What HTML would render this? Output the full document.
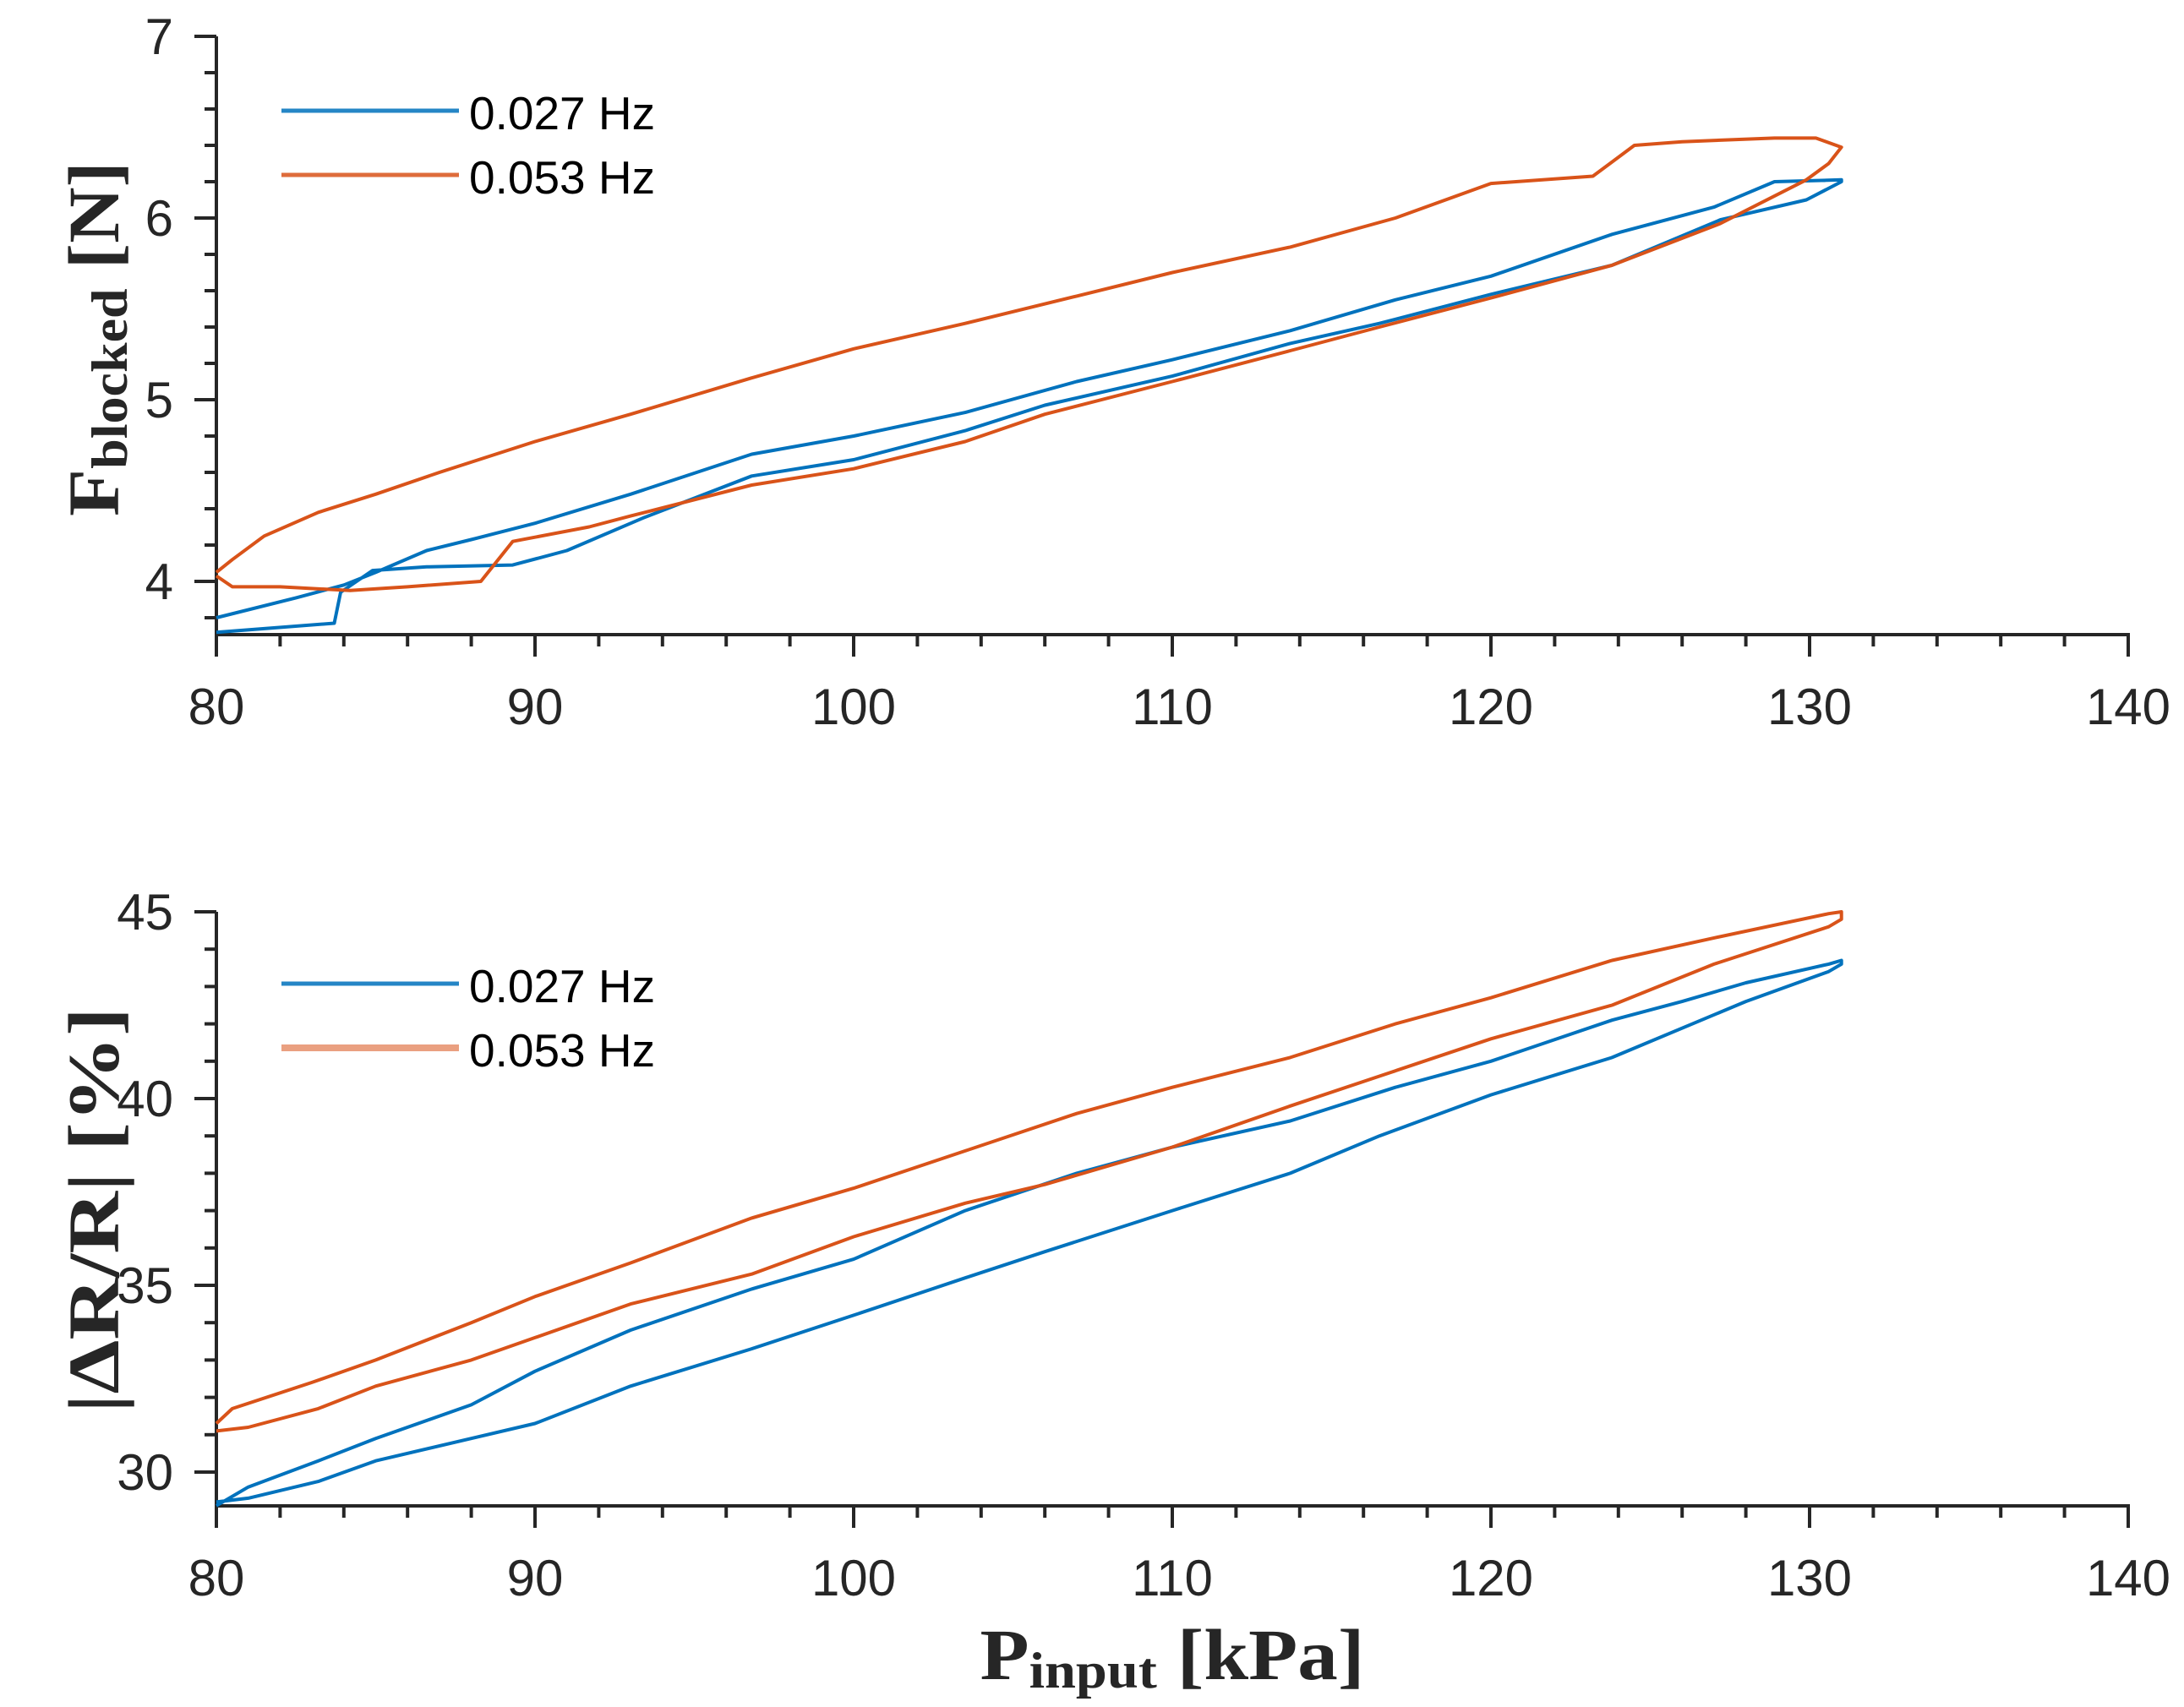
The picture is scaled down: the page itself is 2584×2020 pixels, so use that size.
<!DOCTYPE html>
<html><head><meta charset="utf-8"><style>
html,body{margin:0;padding:0;background:#fff;}
svg{display:block;}
</style></head><body>
<svg id="chart" width="2584" height="2020" viewBox="0 0 2584 2020" xmlns="http://www.w3.org/2000/svg">
<g id="top"></g>
<g id="bot"></g>
<text transform="translate(140,401) rotate(-90)" text-anchor="middle" font-family="Liberation Serif, serif" font-weight="bold" fill="#262626" font-size="86" textLength="420" lengthAdjust="spacingAndGlyphs">F<tspan font-size="60" dy="10">blocked</tspan><tspan dy="-10"> [N]</tspan></text>
<text transform="translate(140,1432) rotate(-90)" text-anchor="middle" font-family="Liberation Serif, serif" font-weight="bold" fill="#262626" font-size="86" textLength="480" lengthAdjust="spacingAndGlyphs">|ΔR/R| [%]</text>
<text x="1387" y="1987" text-anchor="middle" font-family="Liberation Serif, serif" font-weight="bold" fill="#262626" font-size="86" textLength="455" lengthAdjust="spacingAndGlyphs">P<tspan font-size="60" dy="10">input</tspan><tspan dy="-10"> [kPa]</tspan></text>
</svg>
<script>
// ---- data ----
const xTicks = [80, 90, 100, 110, 120, 130, 140];
const topYTicks = [4, 5, 6, 7];
const botYTicks = [30, 35, 40, 45];
const seriesNames = ["0.027 Hz", "0.053 Hz"];
// top panel: F_blocked [N]
const topBlueX = [80, 82.5, 84, 85, 86.6, 88, 90, 93, 96.8, 100, 103.5, 107, 110, 113.7, 117, 120, 123.8, 127, 128.9, 131, 131, 129.9, 127.2, 123.8, 120, 116.5, 113.7, 110, 106, 103.5, 100, 96.8, 93.4, 91, 89.3, 86.6, 84.9, 83.9, 83.7, 81.5, 80];
const topBlueY = [3.80, 3.91, 3.98, 4.05, 4.17, 4.23, 4.32, 4.48, 4.70, 4.80, 4.93, 5.10, 5.22, 5.38, 5.55, 5.68, 5.91, 6.06, 6.20, 6.21, 6.20, 6.10, 5.99, 5.74, 5.58, 5.42, 5.31, 5.13, 4.97, 4.83, 4.67, 4.58, 4.35, 4.17, 4.09, 4.08, 4.06, 3.94, 3.77, 3.74, 3.72];
const topOrangeX = [80, 80.5, 81.5, 83.2, 85, 87, 90, 93, 96.8, 100, 103.5, 107, 110, 113.7, 117, 120, 123.2, 124.5, 126, 128.9, 130.2, 131, 130.6, 129.9, 127.2, 123.8, 120, 116.5, 113.7, 110, 106, 103.5, 100, 96.8, 93, 91.7, 89.3, 88.3, 86, 84.2, 82, 80.5, 80];
const topOrangeY = [4.05, 4.12, 4.25, 4.38, 4.48, 4.60, 4.77, 4.92, 5.12, 5.28, 5.42, 5.57, 5.70, 5.84, 6.00, 6.19, 6.23, 6.40, 6.42, 6.44, 6.44, 6.39, 6.30, 6.21, 5.97, 5.74, 5.56, 5.40, 5.27, 5.10, 4.92, 4.77, 4.62, 4.53, 4.36, 4.30, 4.22, 4.00, 3.97, 3.95, 3.97, 3.97, 4.03];
// bottom panel: |dR/R| [%]
const botBlueX = [80, 81, 83.2, 85, 88, 90, 93, 96.8, 100, 103.5, 107, 110, 113.7, 117, 120, 123.8, 126, 128, 130.6, 131, 131, 130.6, 128, 123.8, 120, 116.5, 113.7, 110, 106, 103.5, 100, 96.8, 93, 90, 88, 85, 83.2, 81, 80];
const botBlueY = [29.1, 29.6, 30.3, 30.9, 31.8, 32.7, 33.8, 34.9, 35.7, 37.0, 38.0, 38.7, 39.4, 40.3, 41.0, 42.1, 42.6, 43.1, 43.6, 43.7, 43.6, 43.4, 42.6, 41.1, 40.1, 39.0, 38.0, 37.0, 35.9, 35.2, 34.2, 33.3, 32.3, 31.3, 30.9, 30.3, 29.75, 29.3, 29.2];
const botOrangeX = [80, 80.5, 83, 85, 88, 90, 93, 96.8, 100, 103.5, 107, 110, 113.7, 117, 120, 123.8, 127, 130.6, 131, 131, 130.6, 127, 123.8, 120, 116.5, 113.7, 110, 106, 103.5, 100, 96.8, 93, 90, 88, 85, 83.2, 81, 80];
const botOrangeY = [31.3, 31.7, 32.4, 33.0, 34.0, 34.7, 35.6, 36.8, 37.6, 38.6, 39.6, 40.3, 41.1, 42.0, 42.7, 43.7, 44.3, 44.95, 45.0, 44.8, 44.6, 43.6, 42.5, 41.6, 40.6, 39.8, 38.7, 37.7, 37.2, 36.3, 35.3, 34.5, 33.6, 33.0, 32.3, 31.7, 31.2, 31.1];

// ---- axes ----
const X0 = 256, XPX = 37.7; // px per kPa
function sx(v){ return X0 + (v - 80) * XPX; }
function syTop(v){ return 43 + (7 - v) * 215; }
function syBot(v){ return 1079 + (45 - v) * 44.2; }
const NS = "http://www.w3.org/2000/svg";
const AX = "#262626", BLUE = "#0072BD", ORANGE = "#D95319";
function mk(tag, attrs, parent){ const e = document.createElementNS(NS, tag); for (const k in attrs) e.setAttribute(k, attrs[k]); parent.appendChild(e); return e; }

function panel(g, sy, yMin, yMax, yTicks, yMinorStep, axisY, xs, ys, legendY){
  const yl = mk("line", {x1:X0, y1:sy(yMax), x2:X0, y2:axisY, stroke:AX, "stroke-width":4}, g);
  
  
  const xl = mk("line", {x1:X0-2, y1:axisY, x2:sx(140)+2, y2:axisY, stroke:AX, "stroke-width":4}, g);
  
  
  for (let v = 80; v <= 140; v += 2) {
    const major = (v % 10 === 0);
    const t = mk("line", {x1:sx(v), y1:axisY, x2:sx(v), y2:axisY + (major ? 26 : 14), stroke:AX, "stroke-width":4}, g);
    
    
  }
  xTicks.forEach(v => {
    const t = mk("text", {x:sx(v), y:axisY + 106, "text-anchor":"middle", "font-family":"Liberation Sans, sans-serif", "font-size":60, fill:AX}, g);
    t.textContent = v;
    
    
  });
  for (let v = yMax; v >= yMin - 1e-9; v -= yMinorStep) {
    const major = yTicks.some(t => Math.abs(t - v) < 1e-6);
    const t = mk("line", {x1:X0, y1:sy(v), x2:X0 - (major ? 26 : 14), y2:sy(v), stroke:AX, "stroke-width":4}, g);
    
    
  }
  yTicks.forEach(v => {
    const t = mk("text", {x:205, y:sy(v) + 21, "text-anchor":"end", "font-family":"Liberation Sans, sans-serif", "font-size":60, fill:AX}, g);
    t.textContent = v;
    
    
  });
  const cols = [BLUE, ORANGE];
  for (let s = 0; s < 2; s++) {
    const pts = xs[s].map((x, i) => sx(x).toFixed(1) + "," + sy(ys[s][i]).toFixed(1)).join(" ");
    const p = mk("polyline", {points:pts, fill:"none", stroke:cols[s], "stroke-width":4, "stroke-linejoin":"round"}, g);
    
    
  }
  for (let s = 0; s < 2; s++) {
    const ly = legendY + s * 76;
    const l = mk("line", {x1:333, y1:ly, x2:543, y2:ly, stroke:cols[s], "stroke-width":(s === 1 && g.id === "bot") ? 8 : 5, opacity:(s===1 && g.id==="bot") ? 0.55 : 0.85}, g);
    
    
    const t = mk("text", {x:555, y:ly + 22, "font-family":"Liberation Sans, sans-serif", "font-size":55, fill:"#000"}, g);
    t.textContent = seriesNames[s];
    
    
  }
}
panel(document.getElementById("top"), syTop, 3.72, 7, topYTicks, 0.2, 751, [topBlueX, topOrangeX], [topBlueY, topOrangeY], 131);
panel(document.getElementById("bot"), syBot, 29.1, 45, botYTicks, 1, 1782, [botBlueX, botOrangeX], [botBlueY, botOrangeY], 1164);
</script>
</body></html>
